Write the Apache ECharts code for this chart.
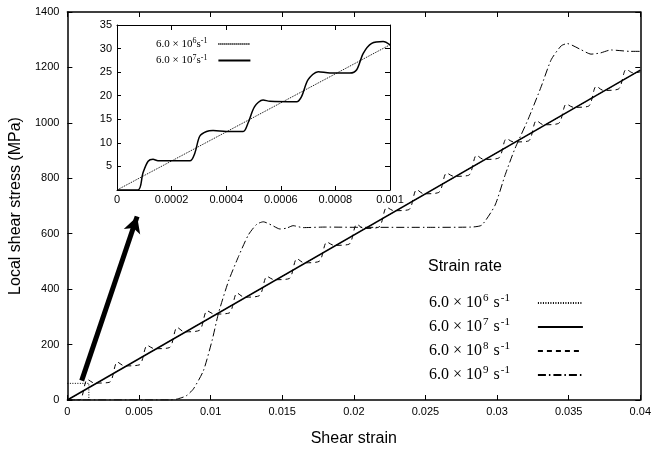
<!DOCTYPE html>
<html>
<head>
<meta charset="utf-8">
<script src="https://cdn.jsdelivr.net/npm/echarts@6/dist/echarts.min.js"></script>
<style>
  html, body { margin: 0; padding: 0; background: #fff; }
  #chart { width: 654px; height: 452px; }
</style>
</head>
<body>
<div id="chart"></div>
<script>
// main chart: shear strain vs local shear stress (MPa)
const xTicks = { min: 0, max: 0.04, interval: 0.005 }
const yTicks = { min: 0, max: 1400, interval: 200 }

const rate6 = [[0, 0], [0.04, 1190]]
const rate7 = [[0, 0], [0.04, 1190]]
const rate8 = [
  [0, 0], [0.00085, 0], [0.0014, 74], [0.0019, 61],
  [0.00294, 64], [0.00349, 137], [0.00399, 123],
  [0.00503, 127], [0.00558, 197], [0.00608, 185],
  [0.00712, 189], [0.00767, 262], [0.00817, 246],
  [0.00921, 251], [0.00976, 322], [0.01026, 310],
  [0.0113, 314], [0.01185, 386], [0.01235, 371],
  [0.01339, 376], [0.01394, 446], [0.01444, 434],
  [0.01548, 438], [0.01603, 510], [0.01653, 495],
  [0.01757, 500], [0.01812, 570], [0.01862, 558],
  [0.01966, 562], [0.02021, 634], [0.02071, 619],
  [0.02175, 624], [0.0223, 695], [0.0228, 683],
  [0.02384, 687], [0.02439, 759], [0.02489, 744],
  [0.02593, 749], [0.02648, 819], [0.02698, 807],
  [0.02802, 811], [0.02857, 883], [0.02907, 868],
  [0.03011, 873], [0.03066, 943], [0.03116, 931],
  [0.0322, 935], [0.03275, 1008], [0.03325, 993],
  [0.03429, 998], [0.03484, 1068], [0.03534, 1056],
  [0.03638, 1060], [0.03693, 1132], [0.03743, 1117],
  [0.03847, 1122], [0.03902, 1193], [0.03952, 1180],
  [0.04, 1184]
]
const rate9 = [
  [0, 0], [0.0072, 0], [0.0077, 4], [0.0083, 15], [0.0088, 40], [0.0095, 106],
  [0.0101, 214], [0.01056, 315], [0.01125, 429], [0.01195, 518], [0.01264, 596],
  [0.01322, 634], [0.01368, 643], [0.01426, 631], [0.01484, 617], [0.0153, 620],
  [0.01576, 629], [0.01645, 622], [0.018, 624], [0.0204, 623], [0.025, 623],
  [0.0282, 624], [0.02893, 631], [0.02986, 703], [0.03055, 810], [0.03124, 906],
  [0.03217, 1013], [0.03309, 1132], [0.03378, 1228], [0.03448, 1278], [0.0349, 1286],
  [0.03586, 1264], [0.03656, 1248], [0.0372, 1252], [0.03794, 1263], [0.0393, 1258],
  [0.04, 1258]
]
// dotted box marking the zoomed region, and the arrow to the inset
const zoomBox = [[0, 60], [0.0015, 60], [0.0015, 0]]
const arrowFrom = [0.001, 70]
const arrowTo = [0.00487, 662]

// inset: first 0.001 of strain
const insetXTicks = { min: 0, max: 0.001, interval: 0.0002 }
const insetYTicks = { min: 0, max: 35, interval: 5 }
const inset6 = [[0, 0], [0.001, 30.8]]
const inset7 = [
  [0, 0], [0.000077, 0], [0.000095, 3.6], [0.000114, 6.1], [0.000132, 6.5], [0.00015, 6.2],
  [0.000267, 6.2], [0.000285, 7.8], [0.000303, 11.4], [0.000328, 12.4], [0.000352, 12.6],
  [0.0004, 12.4], [0.000462, 12.4], [0.00048, 14.2], [0.000504, 17.7], [0.000535, 19.1],
  [0.00056, 18.8], [0.000658, 18.7], [0.000676, 19.8], [0.0007, 23.4], [0.000737, 25.1],
  [0.00078, 24.8], [0.000853, 24.8], [0.000878, 25.5], [0.000902, 29], [0.000933, 31.1],
  [0.000975, 31.5], [0.001, 30.8]
]

const legendLabels = {
  r6: '6.0 × 10{s|6} s{s|-1}',
  r7: '6.0 × 10{s|7} s{s|-1}',
  r8: '6.0 × 10{s|8} s{s|-1}',
  r9: '6.0 × 10{s|9} s{s|-1}',
  i6: '6.0 × 10{s|6}s{s|-1}',
  i7: '6.0 × 10{s|7}s{s|-1}'
}

const sans = 'Liberation Sans'
const serif = 'Liberation Serif'
const fmt = v => String(Number(v.toFixed(5)))

const mirrorAxis = (gridIndex, ticks, position, width, z) => ({
  type: 'value', gridIndex, position, ...ticks, z,
  axisLine: { show: true, onZero: false, lineStyle: { color: '#000', width } },
  axisTick: { show: true, inside: true, length: 5, lineStyle: { color: '#000' } },
  axisLabel: { show: false },
  splitLine: { show: false }
})

const chart = echarts.init(document.getElementById('chart'))
chart.setOption({
  animation: false,
  backgroundColor: '#fff',
  color: ['#000'],
  title: {
    text: 'Strain rate', left: 428, top: 259, padding: 0,
    textStyle: { fontFamily: sans, fontSize: 16, fontWeight: 'normal', color: '#000' }
  },
  grid: [
    { left: 66, right: 11, top: 12, bottom: 49 },
    { left: 117, top: 25, width: 273, height: 165, show: true, backgroundColor: '#fff', borderWidth: 0, z: 5 }
  ],
  legend: [
    {
      data: ['r6', 'r7', 'r8', 'r9'],
      orient: 'vertical', left: 429, top: 293, itemGap: 4, padding: 0,
      align: 'right', itemWidth: 45, itemHeight: 20,
      itemStyle: { opacity: 0 },
      formatter: n => legendLabels[n],
      textStyle: {
        fontFamily: serif, fontSize: 16, lineHeight: 20, color: '#000', padding: [0, 22, 0, 0],
        rich: { s: { fontFamily: serif, fontSize: 11, lineHeight: 8, verticalAlign: 'top', color: '#000', padding: [0, 1, 0, 1] } }
      }
    },
    {
      data: ['i6', 'i7'],
      orient: 'vertical', left: 156, top: 37, itemGap: 2.5, padding: 0, z: 10,
      align: 'right', itemWidth: 32, itemHeight: 14,
      itemStyle: { opacity: 0 },
      formatter: n => legendLabels[n],
      textStyle: {
        fontFamily: serif, fontSize: 11, lineHeight: 14, color: '#000', padding: [0, 6, 0, 0],
        rich: { s: { fontFamily: serif, fontSize: 8, lineHeight: 5, verticalAlign: 'top', color: '#000' } }
      }
    }
  ],
  xAxis: [
    {
      type: 'value', gridIndex: 0, ...xTicks,
      name: 'Shear strain', nameLocation: 'middle', nameGap: 31,
      nameTextStyle: { fontFamily: sans, fontSize: 16, color: '#000' },
      axisLine: { show: true, onZero: false, lineStyle: { color: '#000', width: 1.5 } },
      axisTick: { show: true, inside: true, length: 5, lineStyle: { color: '#000' } },
      axisLabel: { fontFamily: sans, fontSize: 11, color: '#000', margin: 6, formatter: fmt },
      splitLine: { show: false }
    },
    mirrorAxis(0, xTicks, 'top', 1.5, 0),
    {
      type: 'value', gridIndex: 1, ...insetXTicks, z: 7,
      axisLine: { show: true, onZero: false, lineStyle: { color: '#000', width: 1 } },
      axisTick: { show: true, inside: true, length: 4, lineStyle: { color: '#000' } },
      axisLabel: { fontFamily: sans, fontSize: 11, color: '#000', margin: 4, formatter: fmt },
      splitLine: { show: false }
    },
    mirrorAxis(1, insetXTicks, 'top', 1, 7)
  ],
  yAxis: [
    {
      type: 'value', gridIndex: 0, ...yTicks,
      name: 'Local shear stress (MPa)', nameLocation: 'middle', nameGap: 33,
      nameTextStyle: { fontFamily: sans, fontSize: 16, color: '#000' },
      axisLine: { show: true, onZero: false, lineStyle: { color: '#000', width: 1.5 } },
      axisTick: { show: true, inside: true, length: 5, lineStyle: { color: '#000' } },
      axisLabel: { fontFamily: sans, fontSize: 11, color: '#000', margin: 8, formatter: v => String(v) },
      splitLine: { show: false }
    },
    mirrorAxis(0, yTicks, 'right', 1.5, 0),
    {
      type: 'value', gridIndex: 1, position: 'left', ...insetYTicks, z: 7,
      axisLine: { show: true, onZero: false, lineStyle: { color: '#000', width: 1 } },
      axisTick: { show: true, inside: true, length: 4, lineStyle: { color: '#000' } },
      axisLabel: { fontFamily: sans, fontSize: 11, color: '#000', margin: 5, formatter: v => (v === 0 ? '' : String(v)) },
      splitLine: { show: false }
    },
    mirrorAxis(1, insetYTicks, 'right', 1, 7)
  ],
  series: [
    {
      name: 'r6', type: 'line', xAxisIndex: 0, yAxisIndex: 0, data: rate6, symbol: 'none',
      lineStyle: { color: '#000', width: 1, type: [1, 1.5] },
      markLine: {
        silent: true, symbol: ['none', 'arrow'], symbolSize: [13, 16],
        label: { show: false },
        lineStyle: { color: '#000', width: 5, type: 'solid' },
        data: [[{ coord: arrowFrom }, { coord: arrowTo }]]
      }
    },
    { name: 'r7', type: 'line', xAxisIndex: 0, yAxisIndex: 0, data: rate7, symbol: 'none', lineStyle: { color: '#000', width: 1.5 } },
    { name: 'r8', type: 'line', xAxisIndex: 0, yAxisIndex: 0, data: rate8, symbol: 'none', smooth: 0.3, lineStyle: { color: '#000', width: 1, type: [5, 4] } },
    { name: 'r9', type: 'line', xAxisIndex: 0, yAxisIndex: 0, data: rate9, symbol: 'none', smooth: 0.2, lineStyle: { color: '#000', width: 1, type: [8, 3, 1.5, 3] } },
    { name: 'box', type: 'line', xAxisIndex: 0, yAxisIndex: 0, data: zoomBox, symbol: 'none', lineStyle: { color: '#000', width: 1, type: [1, 1.5] } },
    { name: 'i6', type: 'line', xAxisIndex: 2, yAxisIndex: 2, data: inset6, symbol: 'none', z: 6, lineStyle: { color: '#000', width: 1, type: [1, 1] } },
    { name: 'i7', type: 'line', xAxisIndex: 2, yAxisIndex: 2, data: inset7, symbol: 'none', smooth: 0.3, z: 6, lineStyle: { color: '#000', width: 1.5 } }
  ]
})
</script>
</body>
</html>
